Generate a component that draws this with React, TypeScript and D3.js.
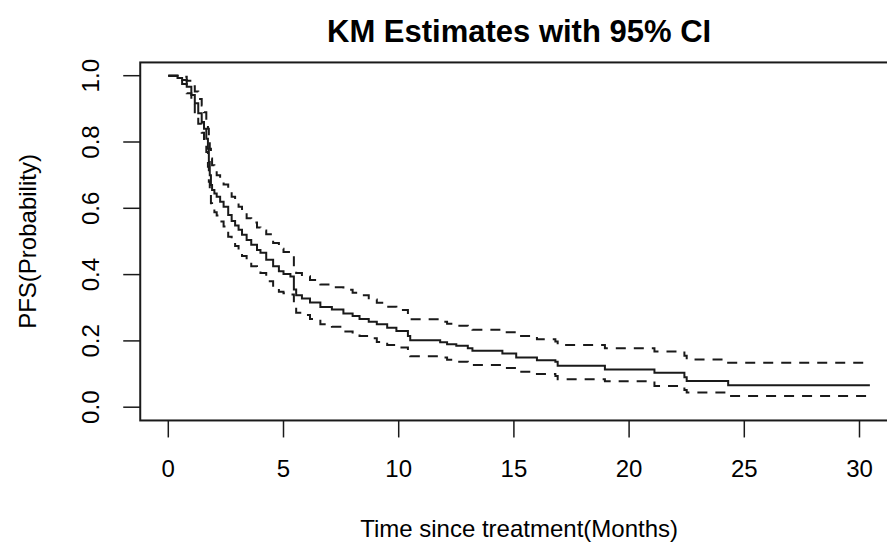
import React, { useRef, useEffect } from "react";
import * as d3 from "d3";

// KM step data (time in months)
const times = [0, 0.4, 0.6, 0.8, 1.0, 1.15, 1.3, 1.45, 1.55, 1.65, 1.72, 1.76, 1.8, 1.85, 1.9, 2.0, 2.1, 2.25, 2.4, 2.6, 2.75, 2.9, 3.05, 3.2, 3.4, 3.6, 3.85, 4.0, 4.25, 4.55, 4.8, 5.0, 5.3, 5.45, 5.55, 5.8, 6.15, 6.6, 7.1, 7.6, 8.0, 8.3, 8.7, 9.05, 9.5, 9.9, 10.4, 10.5, 11.8, 12.1, 12.5, 13.0, 13.2, 14.5, 15.1, 16.0, 16.8, 16.9, 18.95, 21.1, 22.4, 22.5, 24.3, 30.45];
const surv = [1.0, 0.993, 0.987, 0.967, 0.942, 0.917, 0.887, 0.86, 0.84, 0.81, 0.78, 0.74, 0.7, 0.67, 0.655, 0.645, 0.635, 0.62, 0.605, 0.58, 0.562, 0.548, 0.535, 0.52, 0.504, 0.49, 0.474, 0.466, 0.445, 0.425, 0.41, 0.402, 0.394, 0.355, 0.338, 0.328, 0.316, 0.302, 0.295, 0.283, 0.275, 0.266, 0.258, 0.25, 0.24, 0.23, 0.215, 0.202, 0.196, 0.19, 0.185, 0.178, 0.17, 0.162, 0.15, 0.142, 0.137, 0.125, 0.114, 0.104, 0.09, 0.079, 0.066, 0.066];
const upper = [1.0, 1.0, 0.997, 0.985, 0.968, 0.952, 0.93, 0.91, 0.89, 0.865, 0.84, 0.81, 0.78, 0.75, 0.73, 0.712, 0.7, 0.685, 0.672, 0.65, 0.635, 0.62, 0.605, 0.59, 0.57, 0.557, 0.542, 0.533, 0.522, 0.495, 0.478, 0.468, 0.459, 0.42, 0.405, 0.395, 0.384, 0.37, 0.362, 0.354, 0.345, 0.338, 0.325, 0.315, 0.303, 0.293, 0.28, 0.265, 0.258, 0.252, 0.246, 0.24, 0.234, 0.226, 0.215, 0.205, 0.198, 0.188, 0.178, 0.168, 0.155, 0.144, 0.134, 0.134];
const lower = [1.0, 0.985, 0.975, 0.947, 0.915, 0.885, 0.855, 0.828, 0.8, 0.77, 0.725, 0.68, 0.65, 0.615, 0.6, 0.588, 0.578, 0.56, 0.545, 0.514, 0.5, 0.486, 0.472, 0.456, 0.44, 0.425, 0.412, 0.405, 0.38, 0.362, 0.348, 0.344, 0.34, 0.3, 0.285, 0.278, 0.266, 0.25, 0.243, 0.228, 0.222, 0.215, 0.208, 0.197, 0.188, 0.18, 0.168, 0.154, 0.15, 0.143, 0.137, 0.131, 0.127, 0.118, 0.107, 0.1, 0.094, 0.084, 0.078, 0.064, 0.052, 0.044, 0.034, 0.034];

const xTicks = [0, 5, 10, 15, 20, 25, 30];
const yTicks = [0, 0.2, 0.4, 0.6, 0.8, 1.0];

const title = "KM Estimates with 95% CI";
const xLabel = "Time since treatment(Months)";
const yLabel = "PFS(Probability)";

function App() {
  const svgRef = useRef<SVGSVGElement>(null);

  useEffect(() => {
    const w = 887;
    const h = 550;
    const font = "'Liberation Sans', Arial, Helvetica, sans-serif";
    const svg = d3.select(svgRef.current).attr("width", w).attr("height", h);
    svg.selectAll("*").remove();

    const xMax = d3.max(times) as number;
    const xPad = xMax * 0.04;
    const x = d3.scaleLinear().domain([0, 30]).range([168.3, 859.5]);
    const y = d3.scaleLinear().domain([0, 1]).range([407.2, 75.7]);

    const ink = "#1a1a1a";

    // lines
    const line = d3
      .line<number>()
      .x((d, i) => x(times[i]))
      .y((d) => y(d))
      .curve(d3.curveStepAfter);

    svg
      .append("path")
      .datum(surv)
      .attr("fill", "none")
      .attr("stroke", ink)
      .attr("stroke-width", 2)
      .attr("d", line);

    [upper, lower].forEach((s) => {
      svg
        .append("path")
        .datum(s)
        .attr("fill", "none")
        .attr("stroke", ink)
        .attr("stroke-width", 2)
        .attr("stroke-dasharray", "10 8")
        .attr("d", line);
    });

    // box
    const bx0 = x(-xPad);
    const bx1 = x(xMax + xPad);
    const by0 = y(1.04);
    const by1 = y(-0.04);
    svg
      .append("rect")
      .attr("x", bx0)
      .attr("y", by0)
      .attr("width", bx1 - bx0)
      .attr("height", by1 - by0)
      .attr("fill", "none")
      .attr("stroke", ink)
      .attr("stroke-width", 2);

    // x axis
    const gx = svg.append("g").attr("transform", `translate(0, ${by1})`);
    gx.selectAll("line")
      .data(xTicks)
      .join("line")
      .attr("x1", (d) => x(d))
      .attr("x2", (d) => x(d))
      .attr("y1", 0)
      .attr("y2", 17)
      .attr("stroke", ink)
      .attr("stroke-width", 1.5);
    gx.selectAll("text")
      .data(xTicks)
      .join("text")
      .attr("x", (d) => x(d))
      .attr("y", 57)
      .attr("text-anchor", "middle")
      .attr("font-family", font)
      .attr("font-size", 24)
      .attr("fill", "#000")
      .text((d) => d);

    // y axis
    const gy = svg.append("g").attr("transform", `translate(${bx0}, 0)`);
    gy.selectAll("line")
      .data(yTicks)
      .join("line")
      .attr("x1", -17)
      .attr("x2", 0)
      .attr("y1", (d) => y(d))
      .attr("y2", (d) => y(d))
      .attr("stroke", ink)
      .attr("stroke-width", 1.5);
    gy.selectAll("text")
      .data(yTicks)
      .join("text")
      .attr("transform", (d) => `translate(-41, ${y(d)}) rotate(-90)`)
      .attr("text-anchor", "middle")
      .attr("font-family", font)
      .attr("font-size", 24)
      .attr("fill", "#000")
      .text((d) => d.toFixed(1));

    // titles
    svg
      .append("text")
      .attr("x", (bx0 + bx1) / 2)
      .attr("y", 42)
      .attr("text-anchor", "middle")
      .attr("font-family", font)
      .attr("font-weight", "bold")
      .attr("font-size", 31)
      .attr("fill", "#000")
      .text(title);

    svg
      .append("text")
      .attr("x", (bx0 + bx1) / 2)
      .attr("y", 537)
      .attr("text-anchor", "middle")
      .attr("font-family", font)
      .attr("font-size", 24)
      .attr("fill", "#000")
      .text(xLabel);

    svg
      .append("text")
      .attr("transform", `translate(36, ${(by0 + by1) / 2}) rotate(-90)`)
      .attr("text-anchor", "middle")
      .attr("font-family", font)
      .attr("font-size", 24)
      .attr("fill", "#000")
      .text(yLabel);
  }, []);

  return (
    <div style={{ position: "absolute", left: 0, top: 0 }}>
      <svg ref={svgRef}></svg>
    </div>
  );
}

export default App;
